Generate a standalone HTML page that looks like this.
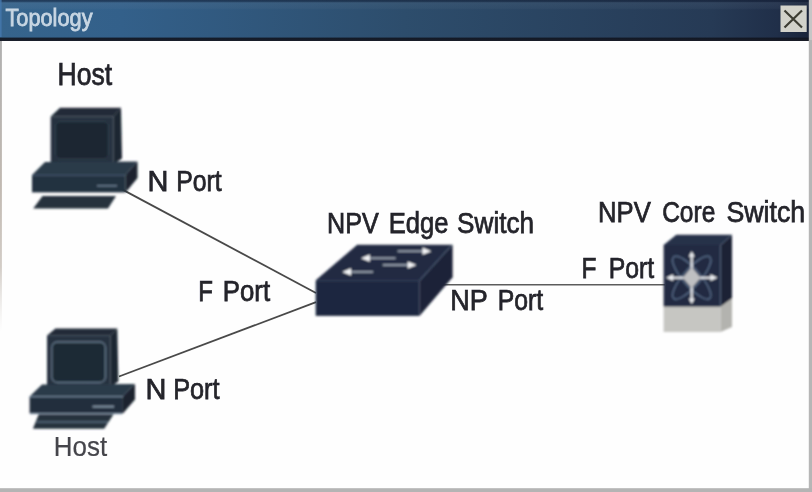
<!DOCTYPE html>
<html>
<head>
<meta charset="utf-8">
<title>Topology</title>
<style>
html,body{margin:0;padding:0;width:812px;height:492px;overflow:hidden;background:#fefefe;}
svg{display:block;position:absolute;left:0;top:0;}
text{font-family:"Liberation Sans",sans-serif;}
</style>
</head>
<body>
<svg width="812" height="492" viewBox="0 0 812 492">
<defs>
  <linearGradient id="tb" x1="0" y1="0" x2="1" y2="0">
    <stop offset="0" stop-color="#36648c"/>
    <stop offset="0.15" stop-color="#33608a"/>
    <stop offset="0.5" stop-color="#2d4d6c"/>
    <stop offset="0.88" stop-color="#263a55"/>
    <stop offset="0.96" stop-color="#202f49"/>
    <stop offset="1" stop-color="#192339"/>
  </linearGradient>
  <linearGradient id="lb" x1="0" y1="0" x2="0" y2="1">
    <stop offset="0" stop-color="#b0b0b0" stop-opacity="1"/>
    <stop offset="0.5" stop-color="#beb6ae" stop-opacity="0.95"/>
    <stop offset="0.78" stop-color="#c4bcb4" stop-opacity="0.75"/>
    <stop offset="1" stop-color="#d8d4d0" stop-opacity="0"/>
  </linearGradient>
  <linearGradient id="tbv" x1="0" y1="0" x2="0" y2="1">
    <stop offset="0" stop-color="#121c32" stop-opacity="0.6"/>
    <stop offset="0.05" stop-color="#121c32" stop-opacity="0.35"/>
    <stop offset="0.075" stop-color="#8898aa" stop-opacity="0.11"/>
    <stop offset="0.2" stop-color="#8898aa" stop-opacity="0.07"/>
    <stop offset="0.24" stop-color="#8898aa" stop-opacity="0"/>
    <stop offset="0.9" stop-color="#10141f" stop-opacity="0"/>
    <stop offset="0.935" stop-color="#10141f" stop-opacity="0.9"/>
    <stop offset="1" stop-color="#1a1c26" stop-opacity="0.95"/>
  </linearGradient>
  <filter id="soft" x="-5%" y="-5%" width="110%" height="110%"><feGaussianBlur stdDeviation="0.6"/></filter>
  <filter id="softer" x="-5%" y="-5%" width="110%" height="110%"><feGaussianBlur stdDeviation="0.9"/></filter>
</defs>

<!-- page background -->
<rect x="0" y="0" width="812" height="492" fill="#fefefe"/>

<!-- title bar -->
<rect x="0" y="0" width="809.1" height="41" fill="url(#tb)"/>
<rect x="0" y="0" width="809.1" height="41" fill="url(#tbv)"/>
<rect x="0" y="0" width="1.6" height="37" fill="#4478ad" opacity="0.85"/>
<g filter="url(#soft)">
<text x="5.5" y="25.8" font-size="23.5" fill="#c8d6e3" stroke="#c8d6e3" stroke-width="0.8" textLength="87" lengthAdjust="spacingAndGlyphs">Topology</text>
</g>
<!-- close button -->
<g filter="url(#soft)">
<rect x="780.5" y="5.5" width="26.2" height="26.5" fill="#d2d2ca"/>
<path d="M784.5 10.5 L802 27.5 M802 10.5 L784.5 27.5" stroke="#3c3c32" stroke-width="2.2" fill="none"/>
</g>

<!-- borders -->
<rect x="0" y="41" width="1.9" height="290" fill="url(#lb)"/>
<rect x="808.8" y="0" width="3.2" height="492" fill="#b6b6b6"/>
<rect x="809.1" y="0" width="2.9" height="40" fill="#c6c6c6"/>
<rect x="0" y="488.2" width="812" height="3.8" fill="#b4b4b4"/>

<!-- connection lines -->
<g stroke="#484848" stroke-width="1.8" fill="none" filter="url(#soft)">
<line x1="122.5" y1="189.6" x2="316" y2="293"/>
<line x1="119" y1="376.5" x2="316" y2="302.2"/>
<line x1="440" y1="284.8" x2="665" y2="284.8" stroke="#5c5c5c" stroke-width="1.6"/>
</g>

<!-- top host computer -->
<g id="pc1" filter="url(#softer)">
  <polygon points="60,107.8 121,107.8 113.5,116.5 50.7,116.5" fill="#202b37"/>
  <polygon points="113.5,116.5 121,107.8 122,158.5 113.5,164" fill="#1b2530"/>
  <rect x="50.7" y="116.5" width="62.8" height="47.5" fill="#25323f"/>
  <rect x="55.5" y="121.5" width="53" height="37.5" rx="4.5" fill="#1d2833" stroke="#324150" stroke-width="1"/>
  <polygon points="45,162 137.5,161.5 125.6,175 32,175" fill="#2b3a49"/>
  <polygon points="125.6,175 137.5,161.5 137.5,178 125.6,192.4" fill="#1a242f"/>
  <rect x="32" y="175" width="93.6" height="17.4" fill="#233140"/>
  <line x1="32" y1="175.3" x2="125.6" y2="175.3" stroke="#4a5f73" stroke-width="1.1"/>
  <line x1="97" y1="185.8" x2="117" y2="185.8" stroke="#66798c" stroke-width="1.6"/>
  <polygon points="42.5,196 116,196 108,208.6 33.2,208.6" fill="#25323e"/>
</g>

<!-- bottom host computer -->
<g id="pc2" filter="url(#softer)">
  <polygon points="55.5,328.4 117.3,328.4 110.5,335.4 47,335.4" fill="#212c38"/>
  <polygon points="110.5,335.4 117.3,328.4 118.4,381.5 110.5,386.5" fill="#1b2530"/>
  <rect x="47" y="335.4" width="63.5" height="51.1" fill="#25323f"/>
  <rect x="51.8" y="342" width="53.6" height="40.5" rx="5.5" fill="#1e2935" stroke="#64788b" stroke-width="1.3"/>
  <polygon points="42,384.5 135,384 122.9,396.5 29.6,396.5" fill="#2b3a49"/>
  <polygon points="122.9,396.5 135,384 135,399.5 122.9,413.6" fill="#1a242f"/>
  <rect x="29.6" y="396.5" width="93.3" height="17.1" fill="#222f3d"/>
  <line x1="29.6" y1="396.6" x2="122.9" y2="396.6" stroke="#718599" stroke-width="1.2"/>
  <line x1="30" y1="413.6" x2="122" y2="413.6" stroke="#7d8fa2" stroke-width="1.2"/>
  <line x1="92.5" y1="406.6" x2="114" y2="406.6" stroke="#8797a8" stroke-width="1.9"/>
  <polygon points="38.7,414.3 113.6,414.3 104.2,428.8 32.9,428.8" fill="#25323e"/>
  <line x1="36.5" y1="422" x2="108" y2="422" stroke="#71859a" stroke-width="1.2"/>
</g>

<!-- NPV edge switch -->
<g id="edge" filter="url(#softer)">
  <polygon points="357.2,244.7 452.6,244.7 419.5,280.3 315.7,280.3" fill="#232c43"/>
  <polygon points="419.5,280.3 452.6,244.7 452.6,277.3 419.5,315.9" fill="#1b2337"/>
  <rect x="315.7" y="280.3" width="103.8" height="35.6" fill="#1f2840"/>
  <line x1="316" y1="280.6" x2="419.5" y2="280.6" stroke="#323e58" stroke-width="1"/>
  <line x1="419.8" y1="280.3" x2="451.5" y2="245.3" stroke="#46526c" stroke-width="1.2"/>
  <g stroke="#949cab" stroke-width="1.9" fill="#f4f5f7" stroke-linecap="butt">
    <line x1="397.6" y1="251.2" x2="425" y2="251.2"/>
    <polygon points="431.3,251.2 422.5,247.6 422.5,254.8" stroke="none"/>
    <line x1="368" y1="258.2" x2="395.6" y2="258.2"/>
    <polygon points="361,258.2 369.8,254.6 369.8,261.8" stroke="none"/>
    <line x1="382.8" y1="265" x2="410" y2="265"/>
    <polygon points="416.5,265 407.7,261.4 407.7,268.6" stroke="none"/>
    <line x1="349" y1="271.9" x2="373" y2="271.9"/>
    <polygon points="342.2,271.9 351,268.3 351,275.5" stroke="none"/>
  </g>
</g>

<!-- NPV core switch -->
<g id="core" filter="url(#softer)">
  <!-- grey base -->
  <rect x="663.6" y="306" width="56.9" height="26" fill="#c6c6c2"/>
  <polygon points="720.5,306 732,297.5 732,327 720.5,332" fill="#b3b3af"/>
  <!-- dark cube -->
  <polygon points="676.3,234.8 732,234.8 720.5,245 663.6,245" fill="#27324a"/>
  <polygon points="720.5,245 732,234.8 732,298.3 720.5,306.6" fill="#1c2436"/>
  <rect x="663.6" y="245" width="56.9" height="61.6" fill="#222b42"/>
  <line x1="720.5" y1="246" x2="720.5" y2="306" stroke="#4c5a72" stroke-width="1.2"/>
  <line x1="720.7" y1="245" x2="731.5" y2="235.3" stroke="#4c5a72" stroke-width="1"/>
  <!-- symbol -->
  <g transform="translate(691.7,277.7)">
    <ellipse cx="0" cy="0" rx="8.5" ry="27.5" transform="rotate(-41)" fill="none" stroke="#586c8a" stroke-width="1.3"/>
    <ellipse cx="0" cy="0" rx="8.5" ry="27.5" transform="rotate(41)" fill="none" stroke="#586c8a" stroke-width="1.3"/>
    <g stroke="#eceef1" stroke-width="2.1" fill="#eceef1">
      <line x1="-21" y1="0" x2="21" y2="0"/>
      <line x1="0" y1="-23" x2="0" y2="23"/>
      <polygon points="-25.6,0 -18.5,-3.4 -18.5,3.4" stroke="none"/>
      <polygon points="25.8,0 18.7,-3.4 18.7,3.4" stroke="none"/>
      <polygon points="0,-26.5 -3,-21 3,-21" stroke="none"/>
      <polygon points="0,26.3 -3,20.8 3,20.8" stroke="none"/>
    </g>
    <polygon points="0,-10.6 9,0 0,10.6 -9,0" fill="#bfc0c2"/>
  </g>
</g>

<!-- labels -->
<g fill="#25252b" stroke="#25252b" stroke-width="0.75" filter="url(#soft)">
<text x="57.48" y="85.4" font-size="31" textLength="54.68" lengthAdjust="spacingAndGlyphs">Host</text>
<text x="147.60" y="190.9" font-size="29" textLength="20.94" lengthAdjust="spacingAndGlyphs">N</text>
<text x="176.19" y="190.9" font-size="29" textLength="45.46" lengthAdjust="spacingAndGlyphs">Port</text>
<text x="327.08" y="232.7" font-size="29.2" textLength="51.66" lengthAdjust="spacingAndGlyphs">NPV</text>
<text x="388.65" y="232.7" font-size="29.2" textLength="59.73" lengthAdjust="spacingAndGlyphs">Edge</text>
<text x="457.11" y="232.7" font-size="29.2" textLength="76.90" lengthAdjust="spacingAndGlyphs">Switch</text>
<text x="598.04" y="221.7" font-size="29.2" textLength="52.69" lengthAdjust="spacingAndGlyphs">NPV</text>
<text x="662.13" y="221.7" font-size="29.2" textLength="53.14" lengthAdjust="spacingAndGlyphs">Core</text>
<text x="726.38" y="221.7" font-size="29.2" textLength="78.75" lengthAdjust="spacingAndGlyphs">Switch</text>
<text x="198.32" y="301.2" font-size="28.6" textLength="14.67" lengthAdjust="spacingAndGlyphs">F</text>
<text x="222.80" y="301.2" font-size="28.6" textLength="47.25" lengthAdjust="spacingAndGlyphs">Port</text>
<text x="581.47" y="278.2" font-size="29.2" textLength="14.98" lengthAdjust="spacingAndGlyphs">F</text>
<text x="608.70" y="278.2" font-size="29.2" textLength="45.49" lengthAdjust="spacingAndGlyphs">Port</text>
<text x="450.24" y="310.2" font-size="29" textLength="37.51" lengthAdjust="spacingAndGlyphs">NP</text>
<text x="497.79" y="310.2" font-size="29" textLength="45.46" lengthAdjust="spacingAndGlyphs">Port</text>
<text x="145.45" y="398.9" font-size="29" textLength="20.94" lengthAdjust="spacingAndGlyphs">N</text>
<text x="173.16" y="398.9" font-size="29" textLength="46.39" lengthAdjust="spacingAndGlyphs">Port</text>
</g>
<g fill="#45454b" stroke="#45454b" stroke-width="0.2" filter="url(#soft)">
<text x="53.75" y="455.8" font-size="28" textLength="53.35" lengthAdjust="spacingAndGlyphs">Host</text>
</g>
</svg>
</body>
</html>
